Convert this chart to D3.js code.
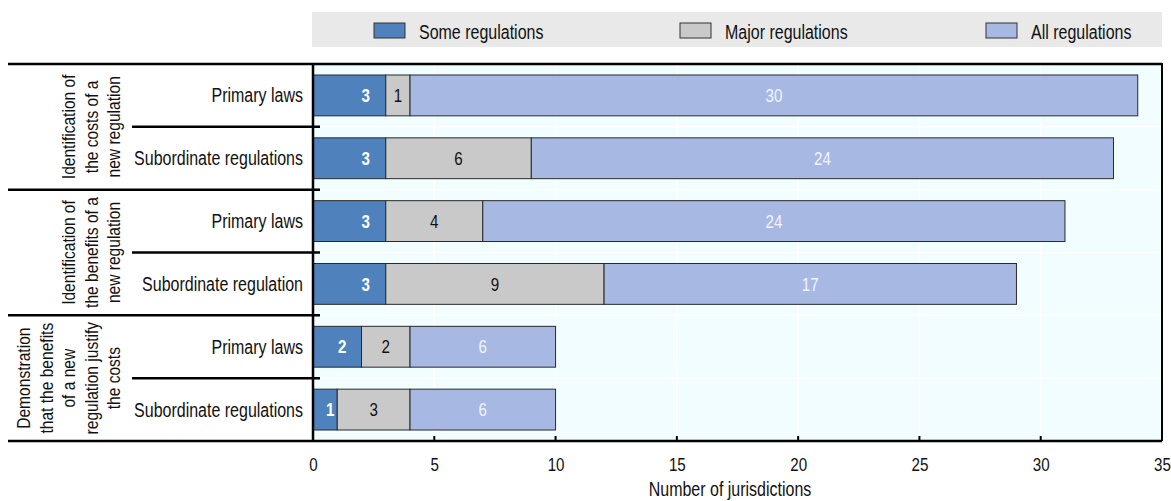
<!DOCTYPE html>
<html>
<head>
<meta charset="utf-8">
<script src="https://cdn.jsdelivr.net/npm/d3@7"></script>
<style>
  body { margin: 0; background: #fff; }
  text { font-family: "Liberation Sans", Arial, sans-serif; }
</style>
</head>
<body>
<div id="chart"></div>
<script>
// data
let groups = [
    ["Identification of", "the costs of a", "new regulation"],
    ["Identification of", "the benefits of a", "new regulation"],
    ["Demonstration", "that the benefits", "of a new", "regulation justify", "the costs"]
];
let rows = ["Primary laws", "Subordinate regulations", "Primary laws", "Subordinate regulation", "Primary laws", "Subordinate regulations"];
let rowGroup = [0, 0, 1, 1, 2, 2];
let seriesNames = ["Some regulations", "Major regulations", "All regulations"];
let someRegs = [3, 3, 3, 3, 2, 1];
let majorRegs = [1, 6, 4, 9, 2, 3];
let allRegs = [30, 24, 24, 17, 6, 6];
let xTicks = [0, 5, 10, 15, 20, 25, 30, 35];

let colors = ["#4f81bd", "#c9c9c9", "#a7b9e3"];
let labelColors = ["#ffffff", "#111111", "#f2f4ff"];

let width = 1171, height = 501;
let margin = { top: 64, right: 9, bottom: 60, left: 313 };
// no narrow font installed, so squeeze text sideways
let narrow = 0.82;

let svg = d3.select("#chart").append("svg")
    .attr("width", width)
    .attr("height", height);

function label(parent, px, py, txt, size, anchor) {
    return parent.append("text")
        .attr("transform", "translate(" + px + "," + py + ") scale(" + narrow + ",1)")
        .attr("dy", "0.36em")
        .attr("text-anchor", anchor)
        .attr("font-size", size)
        .attr("fill", "#111")
        .text(txt);
}

// scales
let x = d3.scaleLinear().domain([0, 35]).range([margin.left, width - margin.right]);
let y = d3.scaleBand()
    .domain(d3.range(rows.length))
    .range([margin.top, height - margin.bottom])
    .paddingInner(0.35)
    .paddingOuter(0.175);
let step = y.step();

// stack the series
let table = rows.map((r, i) => ({ row: i, s0: someRegs[i], s1: majorRegs[i], s2: allRegs[i] }));
let stacked = d3.stack().keys(["s0", "s1", "s2"])(table);

// legend
let legend = svg.append("g");
legend.append("rect")
    .attr("x", margin.left - 1).attr("y", 12)
    .attr("width", x(35) - margin.left + 1).attr("height", 35)
    .attr("fill", "#e9e9e9");
seriesNames.forEach((name, i) => {
    let lx = margin.left + 61 + i * 306;
    legend.append("rect")
        .attr("x", lx).attr("y", 23).attr("width", 31).attr("height", 15)
        .attr("fill", colors[i]).attr("stroke", "#333").attr("stroke-width", 1);
    label(legend, lx + 45, 32, name, 19.5, "start");
});

// plot background
svg.append("rect")
    .attr("x", margin.left).attr("y", margin.top)
    .attr("width", x(35) - margin.left).attr("height", height - margin.bottom - margin.top)
    .attr("fill", "#f1fdfe");

// gridlines
svg.append("g").selectAll("line")
    .data(xTicks.slice(1, -1))
    .enter().append("line")
    .attr("x1", d => x(d)).attr("x2", d => x(d))
    .attr("y1", margin.top).attr("y2", height - margin.bottom)
    .attr("stroke", "#fff").attr("stroke-width", 1.5);
svg.append("g").selectAll("line")
    .data(d3.range(1, rows.length))
    .enter().append("line")
    .attr("x1", margin.left).attr("x2", x(35))
    .attr("y1", d => margin.top + d * step).attr("y2", d => margin.top + d * step)
    .attr("stroke", "#fff").attr("stroke-width", 1.5);

// bars
let layers = svg.append("g").selectAll("g")
    .data(stacked)
    .enter().append("g")
    .attr("fill", (d, i) => colors[i]);

layers.selectAll("rect")
    .data(d => d)
    .enter().append("rect")
    .attr("x", d => x(d[0]))
    .attr("y", d => y(d.data.row))
    .attr("width", d => x(d[1]) - x(d[0]))
    .attr("height", y.bandwidth())
    .attr("stroke", "#2a2a2a")
    .attr("stroke-width", 1);

// bar labels
let barLabels = svg.append("g");
stacked.forEach((layer, i) => {
    layer.forEach(d => {
        let mid = (x(d[0]) + x(d[1])) / 2;
        let lx = i === 0 ? Math.max(x(d[1]) - 20, mid + 5) : mid;
        label(barLabels, lx, y(d.data.row) + y.bandwidth() / 2, d[1] - d[0], 18.5, "middle")
            .attr("font-weight", i === 0 ? "bold" : "normal")
            .attr("fill", labelColors[i]);
    });
});

// frame: top and right
let bottomY = height - margin.bottom;
svg.append("path")
    .attr("d", "M" + margin.left + "," + margin.top + "H" + x(35) + "V" + bottomY)
    .attr("fill", "none").attr("stroke", "#000").attr("stroke-width", 2);

// x axis
let xAxis = svg.append("g")
    .attr("transform", "translate(0," + bottomY + ")")
    .call(d3.axisBottom(x).tickValues(xTicks).tickSize(0).tickPadding(17));
xAxis.select(".domain").remove();
xAxis.selectAll("text")
    .attr("font-size", 18.5).attr("fill", "#111").attr("font-family", null)
    .attr("transform", "scale(" + narrow + ",1)");
svg.append("g").selectAll("line")
    .data(xTicks.slice(1, -1))
    .enter().append("line")
    .attr("x1", d => x(d)).attr("x2", d => x(d))
    .attr("y1", bottomY).attr("y2", bottomY - 5)
    .attr("stroke", "#000").attr("stroke-width", 2);

label(svg, 730, 489, "Number of jurisdictions", 19.5, "middle");

// left axis line
svg.append("line")
    .attr("x1", margin.left).attr("x2", margin.left)
    .attr("y1", margin.top).attr("y2", bottomY)
    .attr("stroke", "#000").attr("stroke-width", 2.5);

// row separators (full lines between groups, short ones inside)
svg.append("g").selectAll("line")
    .data(d3.range(rows.length + 1))
    .enter().append("line")
    .attr("x1", d => d % 2 === 0 ? 8 : 132)
    .attr("x2", d => d === 0 || d === rows.length ? x(35) : 320)
    .attr("y1", d => margin.top + d * step).attr("y2", d => margin.top + d * step)
    .attr("stroke", "#000").attr("stroke-width", 2.5);

// row labels
rows.forEach((r, i) => {
    label(svg, 303, y(i) + y.bandwidth() / 2, r, 19.5, "end");
});

// group labels, rotated
groups.forEach((lines, g) => {
    let idx = rowGroup.map((v, i) => v === g ? i : -1).filter(i => i >= 0);
    let cy = margin.top + (idx[0] + idx.length / 2) * step;
    let t = svg.append("text")
        .attr("transform", "translate(120," + cy + ") rotate(-90) scale(" + narrow + ",1)")
        .attr("text-anchor", "middle")
        .attr("font-size", 19).attr("fill", "#111");
    lines.forEach((ln, k) => {
        t.append("tspan")
            .attr("x", 0)
            .attr("y", -(lines.length - 1 - k) * 22.5)
            .text(ln);
    });
});
</script>
</body>
</html>
